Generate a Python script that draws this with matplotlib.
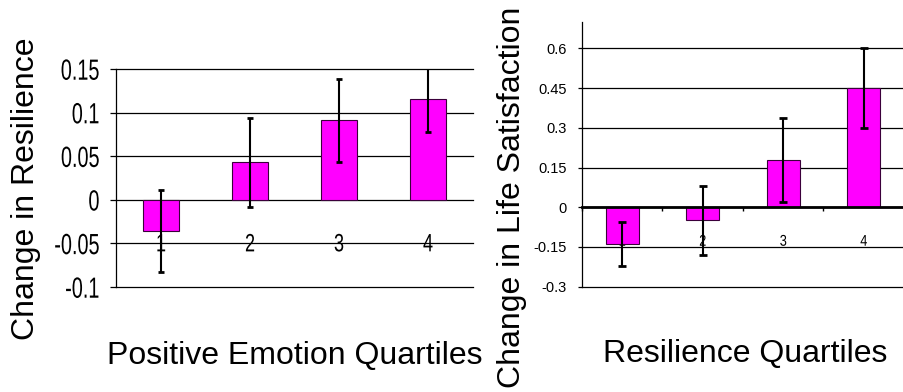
"""
Two bar charts of change scores by quartile, with error bars.
"""
import matplotlib
matplotlib.use("Agg")
import matplotlib.pyplot as plt
from matplotlib import font_manager
from matplotlib.patheffects import AbstractPathEffect
from matplotlib.path import Path
from matplotlib.transforms import Affine2D

# data
quartiles = [1, 2, 3, 4]
quartile_labels = ["1", "2", "3", "4"]

resilience_change = [-0.036, 0.043, 0.091, 0.116]
resilience_err = [0.047, 0.051, 0.048, 0.038]
resilience_ticks = [-0.1, -0.05, 0, 0.05, 0.1, 0.15]
resilience_ticklabels = ["-0.1", "-0.05", "0", "0.05", "0.1", "0.15"]

ls_change = [-0.139, -0.049, 0.180, 0.449]
ls_err = [0.084, 0.130, 0.159, 0.151]
ls_ticks = [-0.3, -0.15, 0, 0.15, 0.3, 0.45, 0.6]
ls_ticklabels = ["-0.3", "-0.15", "0", "0.15", "0.3", "0.45", "0.6"]

_names = {f.name for f in font_manager.fontManager.ttflist}
REG = "Liberation Sans" if "Liberation Sans" in _names else "DejaVu Sans"


class Stretch(AbstractPathEffect):
    """Stretch text vertically about its glyph centre (narrow-font look)."""

    def __init__(self, sy):
        super().__init__()
        self.sy = sy

    def draw_path(self, renderer, gc, tpath, affine, rgbFace=None):
        v = tpath.vertices
        if tpath.codes is not None:
            v = v[tpath.codes != Path.CLOSEPOLY]
        y0 = (v[:, 1].min() + v[:, 1].max()) / 2
        t = Affine2D().translate(0, -y0).scale(1, self.sy).translate(0, y0)
        renderer.draw_path(gc, tpath, t + affine, rgbFace)


MAGENTA = "#ff00ff"
EDGE = "#3a003a"

fig = plt.figure(figsize=(9.04, 3.92), dpi=100)

# ---- left chart ----
ax1 = fig.add_axes([116.5 / 904, 105 / 392, 356 / 904, 218 / 392])
# spine moves reset the ticks, so do them before styling labels
ax1.spines["bottom"].set_position(("data", 0))
ax1.spines["bottom"].set_visible(False)
for s in ["top", "right"]:
    ax1.spines[s].set_visible(False)
ax1.spines["left"].set_linewidth(0.9)

ax1.bar(quartiles, resilience_change, width=0.4, color=MAGENTA,
        edgecolor=EDGE, linewidth=0.8, zorder=3)
ax1.errorbar(quartiles, resilience_change, yerr=resilience_err, fmt="none",
             ecolor="black", elinewidth=1.5, capsize=2.2, capthick=2, zorder=4)
for v in resilience_ticks:
    ax1.axhline(v, color="black", linewidth=0.9, clip_on=False, zorder=2)
ax1.set_xlim(0.5, 4.5)
ax1.set_ylim(-0.1, 0.15)
ax1.set_yticks(resilience_ticks)
ax1.set_yticklabels(resilience_ticklabels, family=REG, fontsize=14.3)
ax1.set_xticks(quartiles)
ax1.set_xticklabels(quartile_labels, family=REG, fontsize=13)
for t in ax1.get_yticklabels():
    t.set_path_effects([Stretch(1.47)])
for t in ax1.get_xticklabels():
    t.set_path_effects([Stretch(1.39)])
ax1.tick_params(axis="y", direction="out", length=4.3, width=0.9, pad=8)
ax1.tick_params(axis="x", length=0, pad=26)
ax1.set_ylabel("Change in Resilience", family=REG, fontsize=23,
               ha="center", va="center")
ax1.yaxis.set_label_coords(-0.254, 0.45)
ax1.set_xlabel("Positive Emotion Quartiles", family=REG, fontsize=23,
               ha="center", va="center")
ax1.xaxis.set_label_coords(0.5, -0.3165)

# ---- right chart ----
ax2 = fig.add_axes([582 / 904, 105.3 / 392, 322 / 904, 264.7 / 392])
ax2.spines["bottom"].set_position(("data", 0))
ax2.spines["bottom"].set_linewidth(2)
ax2.spines["bottom"].set_zorder(5)
for s in ["top", "right"]:
    ax2.spines[s].set_visible(False)
ax2.spines["left"].set_linewidth(0.9)

ax2.bar(quartiles, ls_change, width=0.41, color=MAGENTA,
        edgecolor=EDGE, linewidth=0.8, zorder=3)
ax2.errorbar(quartiles, ls_change, yerr=ls_err, fmt="none",
             ecolor="black", elinewidth=1.5, capsize=2.6, capthick=2, zorder=4)
for v in ls_ticks:
    ax2.axhline(v, color="black", linewidth=0.9, clip_on=False, zorder=2)
ax2.set_xlim(0.5, 4.5)
ax2.set_ylim(-0.3, 0.7)
ax2.set_yticks(ls_ticks)
ax2.set_yticklabels(ls_ticklabels, family=REG, fontsize=10.5)
ax2.set_xticks(quartiles)
ax2.set_xticks([q - 0.5 for q in quartiles] + [quartiles[-1] + 0.5], minor=True)
ax2.set_xticklabels(quartile_labels, family=REG, fontsize=9.2)
for t in ax2.get_xticklabels():
    t.set_path_effects([Stretch(1.22)])
ax2.tick_params(axis="y", direction="out", length=3, width=0.9, pad=8)
ax2.tick_params(axis="x", which="major", length=0, pad=20.5)
ax2.tick_params(axis="x", which="minor", direction="out", length=3, width=1)
ax2.set_ylabel("Change in Life Satisfaction", family=REG, fontsize=23,
               ha="center", va="center")
ax2.yaxis.set_label_coords(-0.217, 0.339)
ax2.set_xlabel("Resilience Quartiles", family=REG, fontsize=23,
               ha="center", va="center")
ax2.xaxis.set_label_coords(0.506, -0.254)

fig.savefig("out.png", dpi=100)
